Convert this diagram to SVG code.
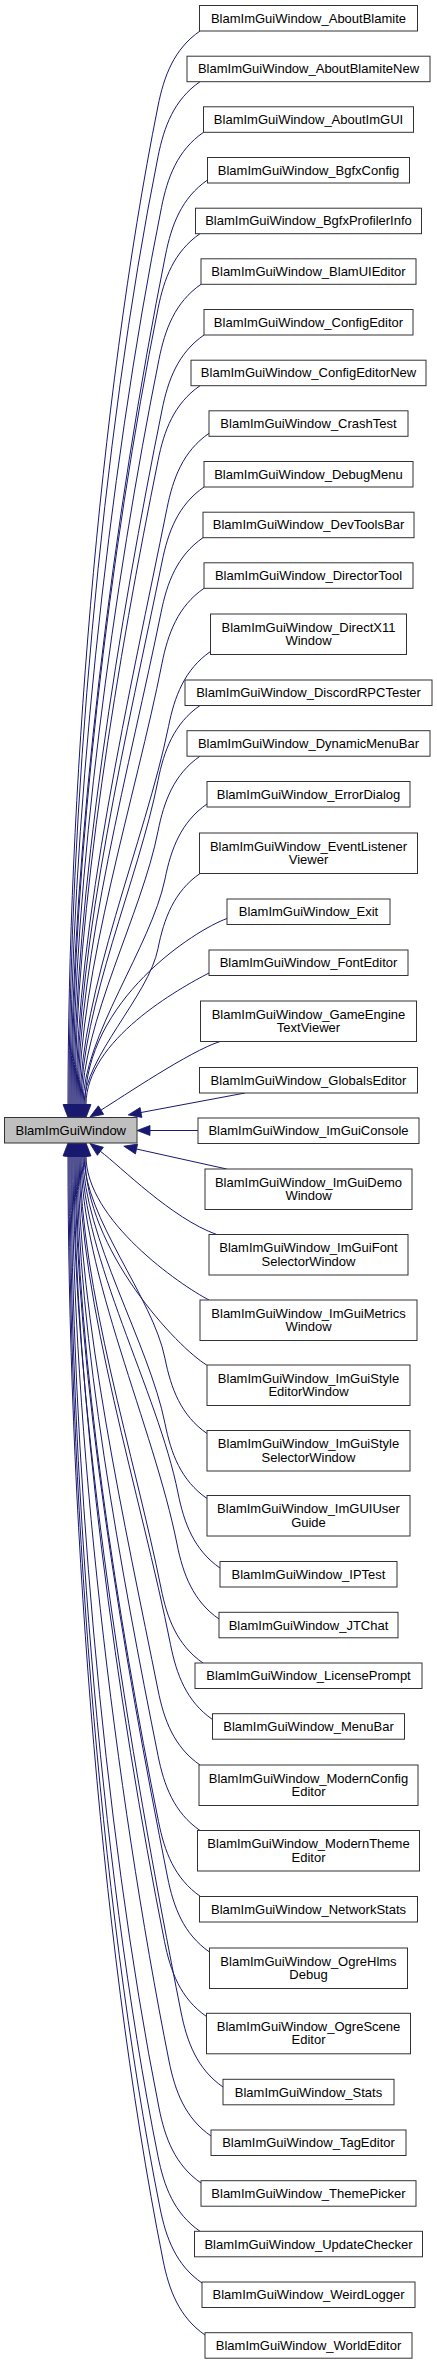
<svg xmlns="http://www.w3.org/2000/svg" width="437" height="2364" viewBox="0 0 437 2364">
<style>
.n rect{fill:#fff;stroke:#333;stroke-width:1}
.n.main rect{fill:#bfbfbf}
.n text{font-family:"Liberation Sans",Arial,sans-serif;font-size:13px;text-anchor:middle;fill:#000}
.e path{fill:none;stroke:#191970;stroke-width:1;marker-end:url(#ah)}
</style>
<defs>
<marker id="ah" markerUnits="userSpaceOnUse" markerWidth="13" markerHeight="10" viewBox="0 0 13 10" refX="0" refY="5" orient="auto" overflow="visible">
<path d="M0,0 L13,5 L0,10 Z" fill="#191970" stroke="#191970" stroke-width="0.8"/>
</marker>
</defs>
<rect width="437" height="2364" fill="#fff"/>
<g id="edges" class="e">
<path d="M200,31 c-26,18 -36,45 -42,75 c-60,300 -90,698.5 -90,998.5"/>
<path d="M200,81.7 c-26,18 -36,45 -42,75 c-57,284 -89,663.8 -89,947.8"/>
<path d="M203.5,132.3 c-26,18 -36,45 -42,75 c-54,269 -91.5,628.2 -91.5,897.2"/>
<path d="M207.5,180 c-26,18 -36,45 -42,75 c-51,255 -94.5,594.5 -94.5,849.5"/>
<path d="M200,233.7 c-26,18 -36,45 -42,75 c-48,239 -86,556.8 -86,795.8"/>
<path d="M201,284.3 c-26,18 -36,45 -42,75 c-45,224 -86,521.2 -86,745.2"/>
<path d="M204,335 c-26,18 -36,45 -42,75 c-42,208 -88,486.5 -88,694.5"/>
<path d="M200,385.7 c-26,18 -36,45 -42,75 c-39,193 -83,450.8 -83,643.8"/>
<path d="M209,433.3 c-26,18 -36,45 -42,75 c-36,179 -91,417.2 -91,596.2"/>
<path d="M204,487 c-26,18 -36,45 -42,75 c-33,163 -85,379.5 -85,542.5"/>
<path d="M203,537.7 c-26,18 -36,45 -42,75 c-30,148 -83,343.8 -83,491.8"/>
<path d="M204,588.3 c-26,18 -36,45 -42,75 c-26,132 -83,309.2 -83,441.2"/>
<path d="M210.5,651.5 c-26,18 -36,45 -42,75 c-23,113 -88.5,265 -88.5,378"/>
<path d="M200,705.5 c-26,18 -36,45 -42,75 c-19,97 -77,227 -77,324"/>
<path d="M200,756.2 c-26,18 -36,45 -42,75 c-16,82 -76,191.3 -76,273.3"/>
<path d="M207,804 c-26,18 -36,45 -42,75 c-14,68 -82,157.5 -82,225.5"/>
<path d="M200,873.5 c-26,18 -36,45 -42,75 c-9,47 -74,109 -74,156"/>
<path d="M227,918.5 C195,930 85,1000 85,1104.5"/>
<path d="M209,973 C180,988 86,1040 86,1104.5"/>
<path d="M220,1041.5 C190,1051 122.3,1096.9 101,1110.1"/>
<path d="M245,1093 L141,1112.5"/>
<path d="M198,1130.5 L150,1130.5"/>
<path d="M226.7,1169 L136.5,1149"/>
<path d="M216.7,1234.5 C171.7,1218.5 120.4,1166.3 100.4,1151.3"/>
<path d="M209,1300 C180,1285 86,1220 86,1156"/>
<path d="M206.7,1365 C178,1348 85,1250 85,1156"/>
<path d="M207,1433.5 c-26,-18 -36,-45 -42,-75 c-12,-61 -81,-141.5 -81,-202.5"/>
<path d="M207,1498.5 c-26,-18 -36,-45 -42,-75 c-16,-80 -82,-187.5 -82,-267.5"/>
<path d="M220,1568 c-26,-18 -36,-45 -42,-75 c-20,-101 -96,-236 -96,-337"/>
<path d="M219,1619 c-26,-18 -36,-45 -42,-75 c-23,-116 -96,-272 -96,-388"/>
<path d="M203,1663 c-26,-18 -36,-45 -42,-75 c-26,-130 -81,-302 -81,-432"/>
<path d="M212.5,1719.5 c-26,-18 -36,-45 -42,-75 c-29,-147 -91.5,-341.5 -91.5,-488.5"/>
<path d="M200,1765 c-26,-18 -36,-45 -42,-75 c-32,-160 -80,-374 -80,-534"/>
<path d="M200,1830.5 c-26,-18 -36,-45 -42,-75 c-36,-180 -81,-419.5 -81,-599.5"/>
<path d="M200.5,1896.5 c-26,-18 -36,-45 -42,-75 c-40,-200 -82.5,-465.5 -82.5,-665.5"/>
<path d="M209.5,1952 c-26,-18 -36,-45 -42,-75 c-43,-216 -92.5,-505 -92.5,-721"/>
<path d="M206.5,2016.5 c-26,-18 -36,-45 -42,-75 c-47,-236 -90.5,-549.5 -90.5,-785.5"/>
<path d="M223,2087 c-26,-18 -36,-45 -42,-75 c-51,-257 -108,-599 -108,-856"/>
<path d="M211,2136 c-26,-18 -36,-45 -42,-75 c-54,-271.5 -97,-633.5 -97,-905"/>
<path d="M201,2183 c-26,-18 -36,-45 -42,-75 c-57,-286 -88,-666 -88,-952"/>
<path d="M200,2231.3 c-26,-18 -36,-45 -42,-75 c-60,-300 -88,-700.3 -88,-1000.3"/>
<path d="M202,2283 c-26,-18 -36,-45 -42,-75 c-63,-316 -91,-736 -91,-1052"/>
<path d="M205,2335 c-26,-18 -36,-45 -42,-75 c-66,-331 -95,-773 -95,-1104"/>
</g>
<g id="node-main" class="n main"><rect x="4.5" y="1117.5" width="132.5" height="25.5"/><text x="70.75" y="1134.7">BlamImGuiWindow</text></g>
<g id="node1" class="n"><rect x="199.5" y="5.5" width="218" height="25.5"/><text x="308.5" y="22.7">BlamImGuiWindow_AboutBlamite</text></g>
<g id="node2" class="n"><rect x="187" y="56.2" width="243" height="25.5"/><text x="308.5" y="73.4">BlamImGuiWindow_AboutBlamiteNew</text></g>
<g id="node3" class="n"><rect x="203.5" y="106.8" width="210" height="25.5"/><text x="308.5" y="124">BlamImGuiWindow_AboutImGUI</text></g>
<g id="node4" class="n"><rect x="207.5" y="157.5" width="202" height="25.5"/><text x="308.5" y="174.7">BlamImGuiWindow_BgfxConfig</text></g>
<g id="node5" class="n"><rect x="195.5" y="208.2" width="226" height="25.5"/><text x="308.5" y="225.4">BlamImGuiWindow_BgfxProfilerInfo</text></g>
<g id="node6" class="n"><rect x="201" y="258.8" width="215" height="25.5"/><text x="308.5" y="276">BlamImGuiWindow_BlamUIEditor</text></g>
<g id="node7" class="n"><rect x="204" y="309.5" width="209" height="25.5"/><text x="308.5" y="326.7">BlamImGuiWindow_ConfigEditor</text></g>
<g id="node8" class="n"><rect x="191" y="360.2" width="235" height="25.5"/><text x="308.5" y="377.4">BlamImGuiWindow_ConfigEditorNew</text></g>
<g id="node9" class="n"><rect x="209" y="410.8" width="199" height="25.5"/><text x="308.5" y="428">BlamImGuiWindow_CrashTest</text></g>
<g id="node10" class="n"><rect x="204" y="461.5" width="209" height="25.5"/><text x="308.5" y="478.7">BlamImGuiWindow_DebugMenu</text></g>
<g id="node11" class="n"><rect x="203" y="512.2" width="211" height="25.5"/><text x="308.5" y="529.4">BlamImGuiWindow_DevToolsBar</text></g>
<g id="node12" class="n"><rect x="204" y="562.8" width="209" height="25.5"/><text x="308.5" y="580">BlamImGuiWindow_DirectorTool</text></g>
<g id="node13" class="n"><rect x="210.5" y="614" width="196" height="40.5"/><text x="308.5" y="631.5">BlamImGuiWindow_DirectX11</text><text x="308.5" y="645">Window</text></g>
<g id="node14" class="n"><rect x="185" y="680" width="247" height="25.5"/><text x="308.5" y="697.2">BlamImGuiWindow_DiscordRPCTester</text></g>
<g id="node15" class="n"><rect x="187" y="730.7" width="243" height="25.5"/><text x="308.5" y="747.9">BlamImGuiWindow_DynamicMenuBar</text></g>
<g id="node16" class="n"><rect x="207" y="781.5" width="203" height="25.5"/><text x="308.5" y="798.7">BlamImGuiWindow_ErrorDialog</text></g>
<g id="node17" class="n"><rect x="199.5" y="833" width="218" height="40.5"/><text x="308.5" y="850.5">BlamImGuiWindow_EventListener</text><text x="308.5" y="864">Viewer</text></g>
<g id="node18" class="n"><rect x="227" y="899" width="163" height="25.5"/><text x="308.5" y="916.2">BlamImGuiWindow_Exit</text></g>
<g id="node19" class="n"><rect x="209" y="950" width="199" height="25.5"/><text x="308.5" y="967.2">BlamImGuiWindow_FontEditor</text></g>
<g id="node20" class="n"><rect x="200.5" y="1001" width="216" height="40.5"/><text x="308.5" y="1018.5">BlamImGuiWindow_GameEngine</text><text x="308.5" y="1032">TextViewer</text></g>
<g id="node21" class="n"><rect x="199.5" y="1067.5" width="218" height="25.5"/><text x="308.5" y="1084.7">BlamImGuiWindow_GlobalsEditor</text></g>
<g id="node22" class="n"><rect x="198" y="1118" width="221" height="25.5"/><text x="308.5" y="1135.2">BlamImGuiWindow_ImGuiConsole</text></g>
<g id="node23" class="n"><rect x="205" y="1169" width="207" height="40.5"/><text x="308.5" y="1186.5">BlamImGuiWindow_ImGuiDemo</text><text x="308.5" y="1200">Window</text></g>
<g id="node24" class="n"><rect x="209" y="1234.5" width="199" height="40.5"/><text x="308.5" y="1252">BlamImGuiWindow_ImGuiFont</text><text x="308.5" y="1265.5">SelectorWindow</text></g>
<g id="node25" class="n"><rect x="200" y="1300" width="217" height="40.5"/><text x="308.5" y="1317.5">BlamImGuiWindow_ImGuiMetrics</text><text x="308.5" y="1331">Window</text></g>
<g id="node26" class="n"><rect x="207" y="1365" width="203" height="40.5"/><text x="308.5" y="1382.5">BlamImGuiWindow_ImGuiStyle</text><text x="308.5" y="1396">EditorWindow</text></g>
<g id="node27" class="n"><rect x="207" y="1430.5" width="203" height="40.5"/><text x="308.5" y="1448">BlamImGuiWindow_ImGuiStyle</text><text x="308.5" y="1461.5">SelectorWindow</text></g>
<g id="node28" class="n"><rect x="207" y="1495.5" width="203" height="40.5"/><text x="308.5" y="1513">BlamImGuiWindow_ImGUIUser</text><text x="308.5" y="1526.5">Guide</text></g>
<g id="node29" class="n"><rect x="220" y="1561.5" width="177" height="25.5"/><text x="308.5" y="1578.7">BlamImGuiWindow_IPTest</text></g>
<g id="node30" class="n"><rect x="219" y="1612.3" width="179" height="25.5"/><text x="308.5" y="1629.5">BlamImGuiWindow_JTChat</text></g>
<g id="node31" class="n"><rect x="195" y="1663" width="227" height="25.5"/><text x="308.5" y="1680.2">BlamImGuiWindow_LicensePrompt</text></g>
<g id="node32" class="n"><rect x="212.5" y="1713.7" width="192" height="25.5"/><text x="308.5" y="1730.9">BlamImGuiWindow_MenuBar</text></g>
<g id="node33" class="n"><rect x="199" y="1765" width="219" height="40.5"/><text x="308.5" y="1782.5">BlamImGuiWindow_ModernConfig</text><text x="308.5" y="1796">Editor</text></g>
<g id="node34" class="n"><rect x="197.5" y="1830.5" width="222" height="40.5"/><text x="308.5" y="1848">BlamImGuiWindow_ModernTheme</text><text x="308.5" y="1861.5">Editor</text></g>
<g id="node35" class="n"><rect x="199.5" y="1896.5" width="218" height="25.5"/><text x="308.5" y="1913.7">BlamImGuiWindow_NetworkStats</text></g>
<g id="node36" class="n"><rect x="209.5" y="1948" width="198" height="40.5"/><text x="308.5" y="1965.5">BlamImGuiWindow_OgreHlms</text><text x="308.5" y="1979">Debug</text></g>
<g id="node37" class="n"><rect x="206.5" y="2013.3" width="204" height="40.5"/><text x="308.5" y="2030.8">BlamImGuiWindow_OgreScene</text><text x="308.5" y="2044.3">Editor</text></g>
<g id="node38" class="n"><rect x="223" y="2079.3" width="171" height="25.5"/><text x="308.5" y="2096.5">BlamImGuiWindow_Stats</text></g>
<g id="node39" class="n"><rect x="211" y="2130" width="195" height="25.5"/><text x="308.5" y="2147.2">BlamImGuiWindow_TagEditor</text></g>
<g id="node40" class="n"><rect x="201" y="2180.7" width="215" height="25.5"/><text x="308.5" y="2197.9">BlamImGuiWindow_ThemePicker</text></g>
<g id="node41" class="n"><rect x="194.5" y="2231.3" width="228" height="25.5"/><text x="308.5" y="2248.5">BlamImGuiWindow_UpdateChecker</text></g>
<g id="node42" class="n"><rect x="202" y="2282" width="213" height="25.5"/><text x="308.5" y="2299.2">BlamImGuiWindow_WeirdLogger</text></g>
<g id="node43" class="n"><rect x="205" y="2332.7" width="207" height="25.5"/><text x="308.5" y="2349.9">BlamImGuiWindow_WorldEditor</text></g>
</svg>
